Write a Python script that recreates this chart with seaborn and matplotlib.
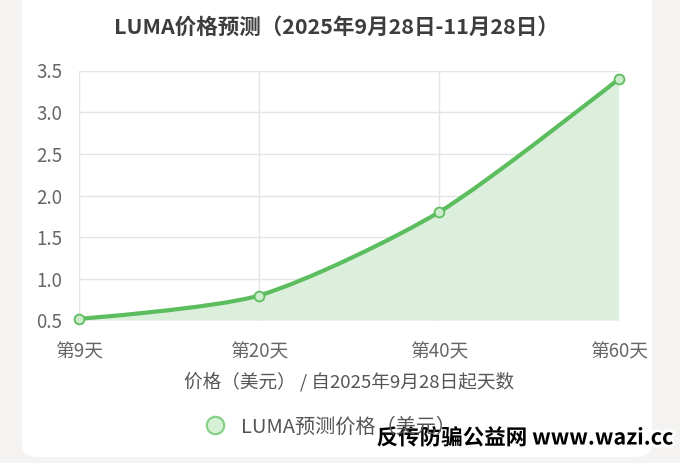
import numpy as np
import pandas as pd
import matplotlib
matplotlib.use("Agg")
import matplotlib.pyplot as plt
import matplotlib.patheffects as pe
from matplotlib.path import Path
from matplotlib.patches import PathPatch, FancyBboxPatch
from matplotlib.lines import Line2D
import seaborn as sns

# data
days = ["第9天", "第20天", "第40天", "第60天"]
prices = [0.52, 0.80, 1.80, 3.40]
y_ticks = [0.5, 1.0, 1.5, 2.0, 2.5, 3.0, 3.5]

title = "LUMA价格预测（2025年9月28日-11月28日）"
x_label = "价格（美元） / 自2025年9月28日起天数"
series_name = "LUMA预测价格（美元）"
watermark = "反传防骗公益网 www.wazi.cc"

line_color = "#5cbd5e"
fill_color = "#dbefdc"
grid_color = "#e4e4e4"
text_color = "#666666"
tension = 0.25

sns.set_theme(style="white")
plt.rcParams['font.family'] = ['Noto Sans CJK SC', 'DejaVu Sans']

df = pd.DataFrame({"day": days, "price": prices})
df["pos"] = range(len(df))

W, H = 680, 463
fig = plt.figure(figsize=(W / 100, H / 100), dpi=100)
fig.patch.set_facecolor("#f4f3f1")

# white card behind chart
card = FancyBboxPatch((22 / W, 6 / H), 630 / W, 470 / H,
                      boxstyle="round,pad=0,rounding_size=0.025",
                      transform=fig.transFigure, facecolor="white",
                      edgecolor="none", zorder=-5)
fig.patches.append(card)

ax = fig.add_axes([79 / W, 1 - 320.5 / H, 540 / W, 250 / H])
ax.set_facecolor("none")
ax.set_xlim(0, len(days) - 1)
ax.set_ylim(y_ticks[0], y_ticks[-1])

# smooth curve (bezier spline) computed in pixel space
pts = np.column_stack([df["pos"], df["price"]]).astype(float)
px = ax.transData.transform(pts)
n = len(px)
cp_in = px.copy()
cp_out = px.copy()
for i in range(1, n - 1):
    d01 = np.linalg.norm(px[i] - px[i - 1])
    d12 = np.linalg.norm(px[i + 1] - px[i])
    s01 = d01 / (d01 + d12)
    s12 = d12 / (d01 + d12)
    delta = px[i + 1] - px[i - 1]
    cp_in[i] = px[i] - tension * s01 * delta
    cp_out[i] = px[i] + tension * s12 * delta
inv = ax.transData.inverted()
cp_in = inv.transform(cp_in)
cp_out = inv.transform(cp_out)

verts = [tuple(pts[0])]
codes = [Path.MOVETO]
for i in range(n - 1):
    verts += [tuple(cp_out[i]), tuple(cp_in[i + 1]), tuple(pts[i + 1])]
    codes += [Path.CURVE4] * 3

fill_verts = verts + [(pts[-1][0], y_ticks[0]), (pts[0][0], y_ticks[0]), verts[0]]
fill_codes = codes + [Path.LINETO, Path.LINETO, Path.CLOSEPOLY]
ax.add_patch(PathPatch(Path(fill_verts, fill_codes), facecolor=fill_color,
                       edgecolor="none", zorder=1))
ax.add_patch(PathPatch(Path(verts, codes), facecolor="none",
                       edgecolor=line_color, linewidth=3, zorder=3,
                       capstyle="round", joinstyle="round"))

sns.scatterplot(data=df, x="pos", y="price", ax=ax, s=50,
                facecolor="#cdeccd", edgecolor=line_color, linewidth=1.3,
                zorder=4, clip_on=False, legend=False)

ax.set_xticks(df["pos"])
ax.set_xticklabels(days)
ax.set_yticks(y_ticks)
ax.set_yticklabels([f"{v:.1f}" for v in y_ticks])
ax.grid(True, color=grid_color, linewidth=1)
ax.set_axisbelow(True)
for s in ax.spines.values():
    s.set_visible(False)
ax.tick_params(axis="both", length=9, width=1, color=grid_color,
               labelsize=13.5, labelcolor=text_color, pad=3, direction="out")
ax.tick_params(axis="x", pad=6)
ax.set_xlabel(x_label, fontsize=13.4, color="#555555", labelpad=7)
ax.set_ylabel("")

fig.text(336 / W, 1 - 27 / H, title, ha="center", va="center",
         fontsize=15.5, fontweight="bold", color="#3d3d3d")

handle = Line2D([], [], linestyle="none", marker="o", markersize=12.5,
                markerfacecolor="#d6f0d6", markeredgecolor="#86d087",
                markeredgewidth=1.6)
fig.legend([handle], [series_name], loc="center left",
           bbox_to_anchor=(177 / W, 1 - 427 / H), frameon=False,
           fontsize=14.5, labelcolor="#555555", handletextpad=0.3)

fig.text(525 / W, 1 - 438 / H, watermark, ha="center", va="center",
         fontsize=15.5, fontweight="bold", color="black",
         path_effects=[pe.withStroke(linewidth=4, foreground="white")])

fig.savefig("out.png", dpi=100, facecolor=fig.get_facecolor())
